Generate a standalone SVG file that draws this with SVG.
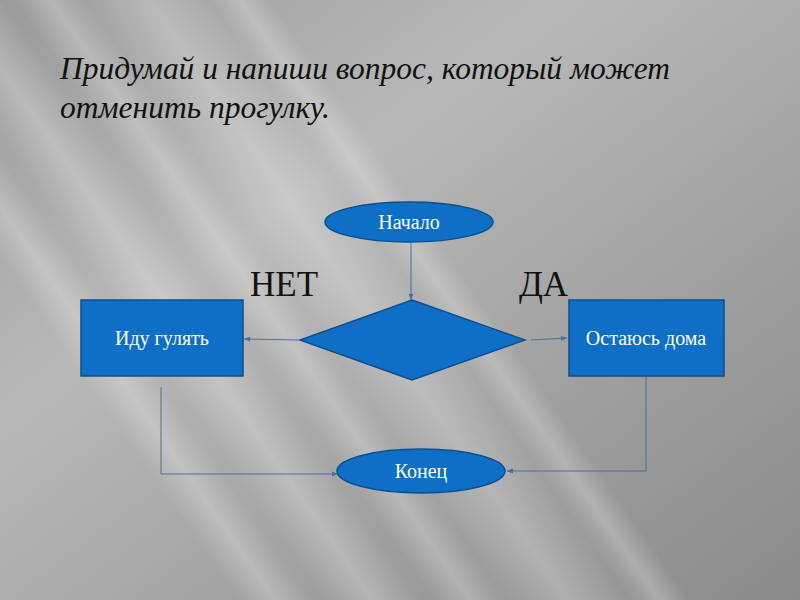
<svg xmlns="http://www.w3.org/2000/svg" width="800" height="600" viewBox="0 0 800 600">
<defs>
<linearGradient id="bg" x1="0" y1="0" x2="1" y2="1">
<stop offset="0" stop-color="#9a9a9a"/>
<stop offset="0.35" stop-color="#b8b8b8"/>
<stop offset="0.7" stop-color="#9e9e9e"/>
<stop offset="1" stop-color="#8a8a8a"/>
</linearGradient>
<linearGradient id="ray" x1="0" y1="0" x2="1" y2="0">
<stop offset="0" stop-color="#fff" stop-opacity="0"/>
<stop offset="0.5" stop-color="#fff" stop-opacity="0.25"/>
<stop offset="1" stop-color="#fff" stop-opacity="0"/>
</linearGradient>
<marker id="ah" viewBox="0 0 10 10" refX="10" refY="5" markerWidth="6" markerHeight="6" orient="auto">
<path d="M0,1 L10,5 L0,9 z" fill="#4a6f9e"/>
</marker>
<style>
.shape{fill:#0f6fc6;stroke:#0b4f8f;stroke-width:1.5}
.lbl{font-family:"Liberation Serif",serif;font-size:20px;fill:#fff;text-anchor:middle}
.big{font-family:"Liberation Serif",serif;font-size:35px;fill:#111}
.title{font-family:"Liberation Serif",serif;font-style:italic;font-size:31px;fill:#111}
.conn{fill:none;stroke:#4a6f9e;stroke-width:1}
</style>
</defs>
<rect width="800" height="600" fill="url(#bg)"/>
<g transform="rotate(-35 250 250)">
<rect x="110" y="-300" width="80" height="1200" fill="url(#ray)"/>
<rect x="200" y="-300" width="60" height="1200" fill="url(#ray)"/>
<rect x="250" y="-300" width="120" height="1200" fill="url(#ray)"/>
<rect x="360" y="-300" width="50" height="1200" fill="url(#ray)"/>
<rect x="40" y="-300" width="60" height="1200" fill="url(#ray)"/>
</g>
<text class="title" x="60" y="79" textLength="610" lengthAdjust="spacingAndGlyphs">Придумай и напиши вопрос, который может</text>
<text class="title" x="60" y="118" textLength="270" lengthAdjust="spacingAndGlyphs">отменить прогулку.</text>
<text class="big" x="250" y="296">НЕТ</text>
<text class="big" x="519" y="296">ДА</text>
<g id="connectors">
<line class="conn" x1="298" y1="340" x2="244" y2="339" marker-end="url(#ah)"/>
<line class="conn" x1="411" y1="243" x2="411" y2="300" marker-end="url(#ah)"/>
<line class="conn" x1="531" y1="340" x2="567" y2="338" marker-end="url(#ah)"/>
<polyline class="conn" points="161,387 161,474 338,474" marker-end="url(#ah)"/>
<polyline class="conn" points="646,376 646,471 507,471" marker-end="url(#ah)"/>
</g>
<g id="start">
<ellipse class="shape" cx="409" cy="222" rx="84" ry="20"/>
<text class="lbl" x="409" y="229">Начало</text>
</g>
<g id="decision">
<polygon class="shape" points="412,300 525,340 412,380 300,340"/>
</g>
<g id="go">
<rect class="shape" x="81" y="300" width="162" height="76"/>
<text class="lbl" x="162" y="345">Иду гулять</text>
</g>
<g id="stay">
<rect class="shape" x="569" y="300" width="155" height="76"/>
<text class="lbl" x="646" y="345">Остаюсь дома</text>
</g>
<g id="end">
<ellipse class="shape" cx="421" cy="471" rx="84" ry="22"/>
<text class="lbl" x="421" y="478">Конец</text>
</g>
</svg>
